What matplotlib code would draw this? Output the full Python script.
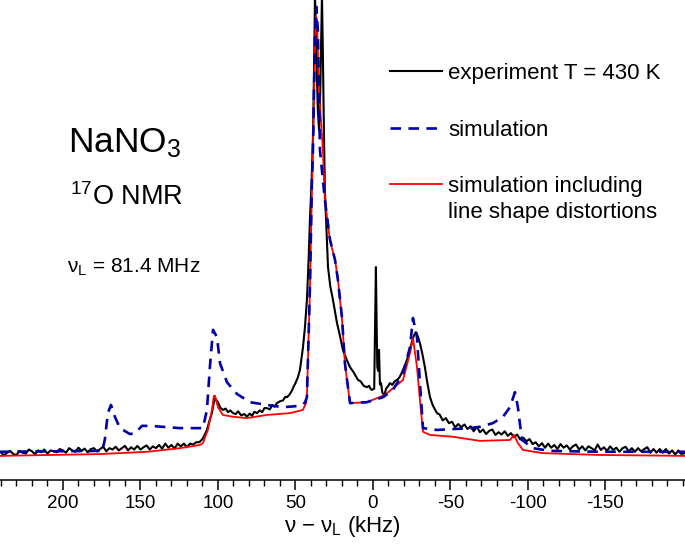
import numpy as np
import matplotlib
matplotlib.use("Agg")
from matplotlib import pyplot as plt
from matplotlib.ticker import MultipleLocator

plt.rcParams['font.family'] = ['Liberation Sans', 'DejaVu Sans']
plt.rcParams['mathtext.default'] = 'regular'
plt.rcParams['axes.unicode_minus'] = False

# experiment (kHz, intensity)
exp_x = [240, 238, 236, 234, 232, 230, 228, 226, 224, 222, 220, 218, 216, 214, 212, 210,
         208, 206, 204, 202, 200, 198, 196, 194, 192, 190, 188, 186, 184, 182, 180, 178,
         176, 174, 172, 170, 168, 166, 164, 162, 160, 158, 156, 154, 152, 150, 148, 146,
         144, 142, 140, 138, 136, 134, 132, 130, 128, 126, 124, 122, 120, 118, 116, 114,
         112, 110, 108.5, 107.1, 105.5, 103.9, 103, 101.9, 101, 100, 98.5, 96.8, 95, 93.5,
         92, 90.3, 88.5, 87, 85, 83, 81.3, 79.5, 78, 76.5, 74.8, 73, 71.5, 70, 68.4, 66.5,
         65, 63.5, 61.9, 60, 58, 56.5, 55.5, 54, 52.5, 51.6, 50, 48.5, 47.1, 45.2, 43.9,
         42.6, 41.5, 40.6, 39.6, 38.7, 38, 37.4, 36.5, 35.6, 34.8, 34, 33.3, 32.9, 32.3,
         31.6, 31.0, 30.3, 29.0, 27.5, 25.8, 24.5, 23.2, 21.5, 19.4, 17, 14.8, 12.5, 10.5,
         9.7, 8, 6, 3.9, 2.5, 1.5, 0.6, -0.8, -1.4, -1.9, -2.4, -2.8, -3.4, -3.9, -4.5,
         -5.2, -6.0, -7.0, -7.7, -8.5, -9.5, -11.0, -12.5, -14, -15.5, -17, -18.2, -19.4,
         -21, -22.5, -23.9, -25.2, -26.5, -27.7, -29, -30.3, -32, -33.5, -35, -36.8, -38.5,
         -40, -41.3, -43, -45, -47, -49, -51, -53, -55, -57, -59, -61, -63, -65, -67, -69,
         -71, -73, -75, -77, -79, -81, -83, -85, -87, -89, -91, -93, -95, -97, -99, -101,
         -103, -105, -107, -109, -111, -113, -115, -117, -119, -121, -123, -125, -127, -129,
         -131, -133, -135, -137, -139, -141, -143, -145, -147, -149, -151, -153, -155, -157,
         -159, -161, -163, -165, -167, -169, -171, -173, -175, -177, -179, -181, -183, -185,
         -187, -189, -191, -193, -195, -197, -199, -201]
exp_y = [0.6, -0.1, 0.5, 0.9, 0.2, 0.0, 0.9, 0.5, 0.3, 1.2, 0.8, 0.2, 1.0, 0.6, 1.2, 0.3,
         1.0, 0.8, 0.6, 1.3, 1.0, 0.5, 1.5, 1.0, 0.7, 1.6, 0.9, 1.4, 0.6, 1.3, 1.5, 0.8,
         1.3, 1.8, 0.8, 1.5, 1.2, 1.8, 1.0, 1.5, 2.0, 1.0, 1.7, 1.2, 2.0, 1.2, 1.7, 2.1,
         1.2, 1.9, 1.5, 2.2, 1.4, 2.5, 1.6, 2.2, 1.4, 2.5, 1.9, 2.5, 1.7, 2.5, 2.3, 2.8,
         2.8, 3.5, 4.5, 5.5, 7.5, 9.2, 11.0, 12.5, 12.0, 11.6, 10.4, 9.9, 10.2, 9.4,
         9.8, 9.2, 9.0, 9.6, 8.7, 9.0, 8.4, 9.1, 8.6, 9.5, 9.2, 9.8, 9.4, 10.3, 10.3, 10.0,
         11.0, 10.6, 11.4, 11.8, 12.0, 12.8, 12.7, 13.2, 14.0, 14.7, 15.8, 17.0, 18.7, 23.5, 28.0,
         34.1, 43, 52.3, 60, 70, 85, 101, 88, 76, 71.4, 80, 93, 101, 88,
         70.5, 58, 52, 41.3, 37, 34.1, 31.5, 29.0, 26.5, 23.1, 21.0, 19.3, 18.2, 17.0,
         16.5, 16.2, 15.2, 14.9, 15.2, 14.5, 14.3, 14.6, 30, 41.3, 28, 19.3, 18.5, 23.1, 15.5,
         15.8, 13.8, 13.2, 13.6, 14.6, 15.0, 15.8, 15.4, 16.2, 16.5, 17.0, 17.8, 18.7,
         20.0, 21.5, 23.1, 25.0, 26.3, 27.0, 26.0, 24.6, 22.0, 19.3, 16.0, 12.7, 11.0,
         10.0, 9.2, 8.9, 7.6, 8.1, 7.0, 7.3, 6.1, 6.8, 6.1, 6.7, 5.7, 6.3, 5.2, 6.2, 5.0,
         5.6, 4.6, 5.3, 5.6, 4.4, 5.0, 4.5, 5.2, 4.2, 4.8, 3.9, 4.5, 3.4, 3.8, 3.0, 3.5,
         2.4, 2.8, 1.9, 2.6, 1.6, 2.5, 1.6, 2.2, 1.3, 2.4, 1.6, 2.1, 1.2, 1.9,
         2.3, 1.2, 1.9, 1.0, 1.9, 1.5, 1.0, 2.3, 1.1, 1.7, 0.9, 1.9, 1.1, 1.6,
         0.7, 1.5, 1.8, 0.8, 1.5, 0.7, 1.5, 0.8, 1.3, 1.7, 0.5, 1.3, 0.5, 1.3,
         0.5, 1.3, 0.3, 1.0, 0.1, 1.0, 0.2, 0.4]

# simulation
sim_x = [241, 176, 174.8, 173, 171, 169, 166.5, 163.2, 156.8, 153.5, 149, 143.9, 124.5,
         109.7, 107.1, 105.2, 103.2, 100.6, 98.7, 94.2, 87.7, 79.4, 68.4, 58.1, 47,
         43.9, 42.6, 40.6, 39.4, 38.7, 37.4, 36.5, 35.5, 34.2, 31.0, 27.7, 24.5, 22.6,
         20.0, 18.1, 14.8, 3.9, -6.5, -12.9, -19.4, -23.9, -25.8, -28.4, -30.3, -32.3,
         -41.3, -62.6, -69, -77.4, -83.9, -88.4, -91.6, -93.5, -96.1, -103.2, -114.2,
         -146.5, -202]
sim_y = [0.7, 0.9, 0.7, 3.3, 9.2, 11.0, 8.4, 5.9, 4.6, 4.8, 6.4, 6.4, 5.9,
         5.9, 9.9, 19.3, 27.5, 25.9, 20.2, 16.0, 13.4, 11.6, 11.0, 10.5, 10.8,
         11.5, 12.7, 37.8, 59.8, 67, 92, 98.5, 93, 67, 56.0, 47.3, 42.9, 38.5,
         30.3, 20.2, 11.4, 11.6, 12.7, 14.3, 18.0, 23.7, 30.1, 25.9, 15.8, 5.9,
         5.5, 5.9, 6.2, 7.0, 8.4, 10.5, 13.8, 10.5, 3.3, 1.5, 0.9,
         0.7, 0.7]

# simulation including line shape distortions
dist_x = [241, 176, 145.8, 124.5, 111.6, 109.7, 106.5, 103.9, 102.6, 101.9, 100.0,
          96.8, 90.3, 81.3, 68.4, 53.5, 45.2, 43.2, 42.6, 40.6, 39.4, 38.7, 37.4, 36.8,
          36.1, 34.8, 32.3, 31.0, 27.7, 24.5, 22.6, 20.0, 18.1, 14.8, 3.9, -7.7, -19.4,
          -23.9, -25.8, -28.4, -30.3, -32.3, -36.8, -51.6, -69.0, -88.4, -91.0, -93.5,
          -96.8, -109.7, -146.5, -202]
dist_y = [-0.2, 0.2, 0.7, 1.5, 2.2, 2.6, 5.5, 9.9, 13.0, 13.0, 10.5,
          8.8, 8.4, 8.1, 8.8, 9.2, 9.9, 11.4, 13.0, 37, 58, 67, 90, 96.5,
          95.6, 80, 67, 56, 47, 43, 38.5, 30, 20, 11.4, 11.6, 13.2, 16.5,
          22.4, 25.7, 19.3, 12.1, 5.1, 4.4, 4.0, 3.1, 3.3, 4.4, 2.6,
          1.1, 0.4, 0.0, -0.2]

tick_vals = [200, 150, 100, 50, 0, -50, -100, -150]

fig = plt.figure(figsize=(6.85, 5.46), dpi=100)
ax = fig.add_axes([0, 1 - 480 / 546, 1, 480 / 546])

ax.plot(exp_x, exp_y, color='black', lw=1.5, label='experiment T = 430 K', zorder=2)
ax.plot(dist_x, dist_y, color='#ff0000', lw=1.3, zorder=3,
        label='simulation including')
ax.plot(sim_x, sim_y, color='#0000a8', lw=1.9, ls=(0, (4, 2.8)), zorder=4,
        label='simulation')

ax.set_xlim(240.6, -201.3)
ax.set_ylim(-5.5, 100)

for s in ['top', 'left', 'right']:
    ax.spines[s].set_visible(False)
ax.spines['bottom'].set_linewidth(1.1)
ax.set_yticks([])
ax.xaxis.set_minor_locator(MultipleLocator(10))
ax.set_xticks(tick_vals)
ax.tick_params(axis='x', which='major', length=7, width=1.1, labelsize=13.5, pad=4)
ax.tick_params(axis='x', which='minor', length=4, width=1.0)
ax.set_xlabel(r'ν − ν$_\mathregular{L}$ (kHz)', fontsize=16, labelpad=1)

handles, labels = ax.get_legend_handles_labels()
order = [0, 2, 1]
ax.legend([handles[i] for i in order], [labels[i] for i in order],
          loc='upper left', bbox_to_anchor=(390 / 685, 1 - 63 / 546),
          bbox_transform=fig.transFigure, frameon=False, fontsize=16,
          handlelength=2.35, handletextpad=0.27, labelspacing=1.6,
          borderpad=0, borderaxespad=0)
fig.text(448 / 685, 1 - 213 / 546, 'line shape distortions', fontsize=16, va='center')

fig.text(68 / 685, 1 - 152 / 546, r'NaNO$_\mathregular{3}$', fontsize=25.5, va='baseline')
fig.text(70 / 685, 1 - 205 / 546, r'$^\mathregular{17}$O NMR', fontsize=19.5, va='baseline')
fig.text(67 / 685, 1 - 273 / 546, r'ν$_\mathregular{L}$ = 81.4 MHz', fontsize=15, va='baseline')

fig.savefig('out.png', dpi=100)
